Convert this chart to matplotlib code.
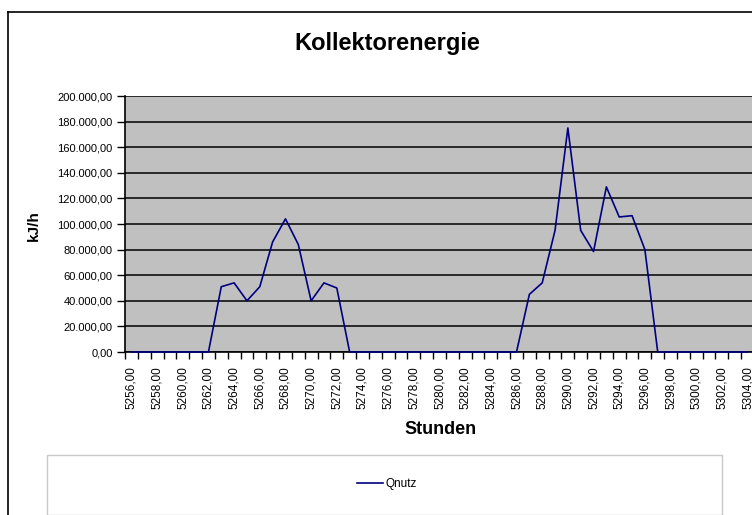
import numpy as np
import matplotlib.pyplot as plt
from matplotlib.patches import Rectangle
from matplotlib.lines import Line2D

# hours 5256..5304, collector energy in kJ/h
hours = list(range(5256, 5305))
qnutz = [0, 0, 0, 0, 0, 0, 0,
         51000, 54000, 40000, 51000, 86000, 104000, 84000, 40000, 54000, 50000,
         0, 0, 0, 0, 0, 0, 0, 0, 0, 0, 0, 0, 0, 0,
         45000, 54000, 95000, 175000, 95000, 78500, 129000, 105500, 106500, 80000,
         0, 0, 0, 0, 0, 0, 0, 0]
y_ticks = list(range(0, 200001, 20000))

W, H = 752, 515
plt.rcParams['font.family'] = ['Liberation Sans', 'DejaVu Sans']

fig = plt.figure(figsize=(W / 100, H / 100), dpi=100)
fig.patch.set_facecolor('white')


def px(x0, y0, x1, y1):
    return [x0 / W, 1 - y1 / H, (x1 - x0) / W, (y1 - y0) / H]


# outer chart border
fig.add_artist(Line2D([8 / W, 1], [1 - 12 / H] * 2, color='black', lw=1.2))
fig.add_artist(Line2D([8 / W] * 2, [0, 1 - 12 / H], color='black', lw=1.2))

ax = fig.add_axes(px(125, 96, 754, 352))
ax.set_facecolor('#c0c0c0')
ax.plot(hours, qnutz, color='#000080', lw=1.2, label='Qnutz', clip_on=False, zorder=5)

ax.set_xlim(hours[0] - 0.5, hours[-1] + 0.5)
ax.set_ylim(0, 200000)
ax.set_yticks(y_ticks)
ax.set_yticklabels([f'{v:,.2f}'.replace(',', 'X').replace('.', ',').replace('X', '.')
                    for v in y_ticks], fontsize=8)
ax.yaxis.grid(True, color='black', lw=1.1)
ax.set_axisbelow(True)

# category boundaries as ticks, labels on every second category
ax.set_xticks(np.arange(hours[0] - 0.5, hours[-1] + 1, 1))
ax.set_xticklabels([])
ax.set_xticks(hours[::2], minor=True)
ax.set_xticklabels([f'{h},00' for h in hours[::2]], minor=True, rotation=90, fontsize=8.5)
ax.tick_params(axis='x', which='minor', length=0, pad=10)
ax.tick_params(axis='x', which='major', length=5, width=1, direction='out')
ax.tick_params(axis='y', length=6, width=1, direction='out', pad=3)

for s in ['top', 'right']:
    ax.spines[s].set_visible(False)
ax.spines['left'].set_linewidth(1.2)
ax.spines['bottom'].set_linewidth(1.2)

fig.text(387 / W, 1 - 50 / H, 'Kollektorenergie', fontsize=17, fontweight='bold',
         ha='center', va='baseline')
fig.text(34 / W, 1 - 226 / H, 'kJ/h', fontsize=11, fontweight='bold', rotation=90,
         ha='center', va='center')
fig.text(441 / W, 1 - 429 / H, 'Stunden', fontsize=13, fontweight='bold',
         ha='center', va='center')

# legend box
fig.add_artist(Rectangle((47 / W, 0), (722 - 47) / W, (H - 455) / H,
                         transform=fig.transFigure, facecolor='white',
                         edgecolor='#c8c8c8', lw=1))
fig.legend(loc='center', bbox_to_anchor=(387 / W, 1 - 484 / H), frameon=False,
           fontsize=8.5, handlelength=2.2, handletextpad=0.2)

fig.savefig('out.png', dpi=100)
